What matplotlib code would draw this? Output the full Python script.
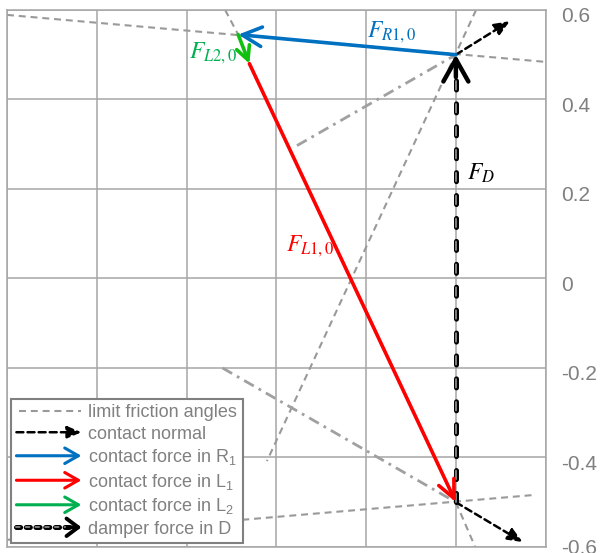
import numpy as np
import matplotlib
matplotlib.use("Agg")
import matplotlib.pyplot as plt
from matplotlib.lines import Line2D
from matplotlib.patches import FancyArrowPatch
from matplotlib.legend_handler import HandlerBase
from matplotlib.transforms import ScaledTranslation

plt.rcParams['lines.scale_dashes'] = False
plt.rcParams['font.family'] = ['Liberation Sans', 'DejaVu Sans']
plt.rcParams['mathtext.fontset'] = 'custom'
plt.rcParams['mathtext.rm'] = 'Liberation Sans'
plt.rcParams['mathtext.it'] = 'Liberation Sans:italic'

# contact points (top R1, bottom L1)
p_top = (0.0, 0.5)
p_bot = (0.0, -0.5)
p_l2 = (-0.485, 0.545)
p_l1 = (-0.46, 0.48)

# force polygon: tail -> tip
damper_tail, damper_tip = p_bot, p_top
r1_tail, r1_tip = p_top, p_l2
l2_tail, l2_tip = p_l2, p_l1
l1_tail, l1_tip = p_l1, p_bot

# contact normals
normal_tails = [p_top, p_bot]
normal_tips = [(0.12, 0.575), (0.149, -0.589)]

# limit friction angle lines
fric_x = [[-1.0, 0.2], [0.045, -0.421], [-0.514, -0.485], [-1.0, 0.171], [0.0, 0.043]]
fric_y = [[0.589, 0.484], [0.6, -0.408], [0.6, 0.545], [-0.584, -0.484], [-0.5, -0.6]]

# dash-dot construction lines
dd_x = [[-0.354, 0.0], [-0.52, 0.0]]
dd_y = [[0.297, 0.5], [-0.2, -0.5]]

yticks = [-0.6, -0.4, -0.2, 0.0, 0.2, 0.4, 0.6]
ytick_labels = ['-0.6', '-0.4', '-0.2', '0', '0.2', '0.4', '0.6']

legend_labels = ['limit friction angles', 'contact normal',
                 'contact force in R$_1$', 'contact force in L$_1$',
                 'contact force in L$_2$', 'damper force in D']

BLUE = '#0070C0'
RED = '#FF0000'
GREEN = '#10C010'
GREEN_TXT = '#00B050'
FRIC = '#999999'
GRID = '#a6a6a6'

fig = plt.figure(figsize=(6, 5.53), dpi=100)
ax = fig.add_axes([0.0117, 0.01085, 0.8977, 0.9711])
ax.set_xlim(-1.0, 0.2)
ax.set_ylim(-0.6, 0.6)
ax.set_xticks(np.linspace(-1.0, 0.2, 7))
ax.set_yticks(yticks)
ax.set_yticklabels(ytick_labels)
ax.yaxis.tick_right()
ax.tick_params(axis='x', length=0, labelbottom=False)
ax.tick_params(axis='y', length=0, pad=11.5, labelsize=15, labelcolor='#808080')
# nudge labels down a little, except the bottom one
for lab in ax.get_yticklabels()[1:]:
    lab.set_transform(lab.get_transform() + ScaledTranslation(0, -3.5 / 72, fig.dpi_scale_trans))
ax.grid(True, color=GRID, lw=1.1)
ax.set_axisbelow(True)
for s in ax.spines.values():
    s.set_color(GRID)
    s.set_linewidth(1.1)

for xs, ys in zip(fric_x, fric_y):
    ax.plot(xs, ys, color=FRIC, lw=1.5, dashes=(5, 3.5), zorder=2)
for xs, ys in zip(dd_x, dd_y):
    ax.plot(xs, ys, color='#a0a0a0', lw=2, dashes=(8, 4, 2, 4), zorder=2)


def arrow(tail, tip, color, lw, scale, hl, hw, ls='-', style='->', z=4):
    ax.annotate('', xy=tip, xytext=tail, zorder=z,
                arrowprops=dict(arrowstyle=f'{style},head_length={hl},head_width={hw}',
                                color=color, lw=lw, mutation_scale=scale,
                                linestyle=ls, shrinkA=0, shrinkB=0))


for t0, t1 in zip(normal_tails, normal_tips):
    arrow(t0, t1, 'black', 1.8, 15, 0.6, 0.25, ls=(0, (5, 3)), style='-|>', z=3)

# damper force: outlined dashes with grey core
dx = [damper_tail[0], damper_tip[0]]
dy = [damper_tail[1], damper_tip[1] - 0.03]
ax.plot(dx, dy, color='black', lw=3.6, dashes=(6.5, 10), dash_capstyle='round', zorder=4)
ax.plot(dx, dy, color='#808080', lw=1.4, dashes=(6, 10.5), dash_capstyle='round', zorder=4)
arrow((damper_tip[0], damper_tip[1] - 0.05), damper_tip, 'black', 3.2, 20, 0.8, 0.45, z=4)

arrow(l1_tail, l1_tip, RED, 2.6, 20, 0.65, 0.3, z=5)
arrow(r1_tail, r1_tip, BLUE, 2.6, 20, 0.7, 0.35, z=5)
arrow(l2_tail, l2_tip, GREEN, 2.6, 14, 0.7, 0.35, z=5)

lab_kw = dict(fontsize=17, ha='center', va='center', math_fontfamily='stix', zorder=6)
ax.text(-0.1426, 0.551, r'$F_{R1,0}$', color=BLUE, **lab_kw)
ax.text(-0.541, 0.504, r'$F_{L2,0}$', color=GREEN_TXT, **lab_kw)
ax.text(-0.325, 0.071, r'$F_{L1,0}$', color=RED, **lab_kw)
ax.text(0.056, 0.234, r'$F_{D}$', color='black', **lab_kw)


class HandlerFunc(HandlerBase):
    def __init__(self, make):
        super().__init__()
        self.make = make

    def create_artists(self, legend, orig_handle, xdescent, ydescent,
                       width, height, fontsize, trans):
        x0, x1 = -xdescent, width - xdescent
        y = (height - ydescent) / 2
        arts = self.make(x0, x1, y)
        for a in arts:
            a.set_transform(trans)
        return arts


def make_fric(x0, x1, y):
    return [Line2D([x0 + 2, x1], [y, y], color=FRIC, lw=1.5, dashes=(5, 3.5))]


def make_arrow(color, lw, scale, style='->,head_length=0.7,head_width=0.4', ls='-'):
    def f(x0, x1, y):
        return [FancyArrowPatch((x0, y), (x1, y), arrowstyle=style, color=color,
                                lw=lw, mutation_scale=scale, linestyle=ls,
                                shrinkA=0, shrinkB=0)]
    return f


def make_damper(x0, x1, y):
    return [Line2D([x0, x1 - 8], [y, y], color='black', lw=3.6, dashes=(3, 4),
                   dash_capstyle='round'),
            Line2D([x0, x1 - 8], [y, y], color='#808080', lw=1.4, dashes=(2.6, 4.4),
                   dash_capstyle='round'),
            FancyArrowPatch((x1 - 10, y), (x1, y), arrowstyle='->,head_length=0.6,head_width=0.45',
                            color='black', lw=2.8, mutation_scale=14, shrinkA=0, shrinkB=0)]


proxies = [Line2D([], []) for _ in legend_labels]
makers = [make_fric,
          make_arrow('black', 1.8, 12, style='-|>,head_length=0.7,head_width=0.3', ls=(0, (5, 3))),
          make_arrow(BLUE, 2.2, 14),
          make_arrow(RED, 2.2, 14),
          make_arrow(GREEN_TXT, 2.2, 14),
          make_damper]
hmap = {p: HandlerFunc(m) for p, m in zip(proxies, makers)}

leg = ax.legend(proxies, legend_labels, handler_map=hmap, loc='lower left',
                bbox_to_anchor=(0.0074, 0.0074), borderaxespad=0, fancybox=False,
                edgecolor='#808080', framealpha=1, fontsize=13, handlelength=3.6,
                handletextpad=0.39, labelspacing=0.25, borderpad=0.3,
                labelcolor='#808080')
leg.get_frame().set_linewidth(1.5)
leg.set_zorder(10)

fig.savefig('out.png', dpi=100, facecolor='white')
